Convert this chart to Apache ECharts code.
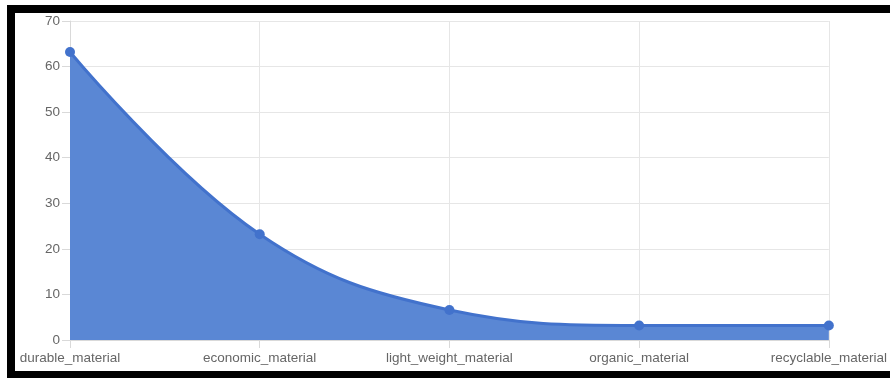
<!DOCTYPE html>
<html><head><meta charset="utf-8">
<script src="https://cdn.jsdelivr.net/npm/echarts@6/dist/echarts.min.js"></script>
<style>
html,body{margin:0;padding:0;background:#fff;width:890px;height:378px;overflow:hidden;}
#frame{position:absolute;left:7px;top:5px;width:900px;height:358px;border-left:8px solid #000;border-top:8px solid #000;border-bottom:7px solid #000;background:#fff;}
#chart{position:absolute;left:0;top:0;width:875px;height:358px;}
</style></head>
<body>
<div id="frame"><div id="chart"></div></div>
<script>
const categories = ["durable_material","economic_material","light_weight_material","organic_material","recyclable_material"];
const values = [63.2, 23.2, 6.6, 3.2, 3.2];
const yTicks = [0,10,20,30,40,50,60,70];

const chart = echarts.init(document.getElementById('chart'));
chart.setOption({
  animation:false,
  grid:{left:55,right:60,top:8,bottom:31,containLabel:false},
  xAxis:{
    type:'category', data:categories, boundaryGap:false,
    axisLine:{show:true,lineStyle:{color:'#d9d9d9',width:1}},
    axisTick:{show:true,length:8,lineStyle:{color:'#d9d9d9'}},
    axisLabel:{color:'#666',fontSize:13.5,fontFamily:'Liberation Sans, Arial',margin:11,interval:0},
    splitLine:{show:true,lineStyle:{color:'#e6e6e6',width:1}}
  },
  yAxis:{
    type:'value', min:yTicks[0], max:yTicks[yTicks.length-1], interval:10,
    axisLine:{show:true,lineStyle:{color:'#d9d9d9',width:1}},
    axisTick:{show:true,length:8,lineStyle:{color:'#d9d9d9'}},
    axisLabel:{color:'#666',fontSize:13.5,fontFamily:'Liberation Sans, Arial',margin:10},
    splitLine:{show:true,lineStyle:{color:'#e6e6e6',width:1}}
  },
  series:[{
    type:'line', data:values, smooth:0.4,
    symbol:'circle', symbolSize:10,
    itemStyle:{color:'#4272cc'},
    lineStyle:{color:'#4272cc',width:3},
    areaStyle:{color:'#5a87d4',opacity:1}
  }]
});
</script>
</body></html>
